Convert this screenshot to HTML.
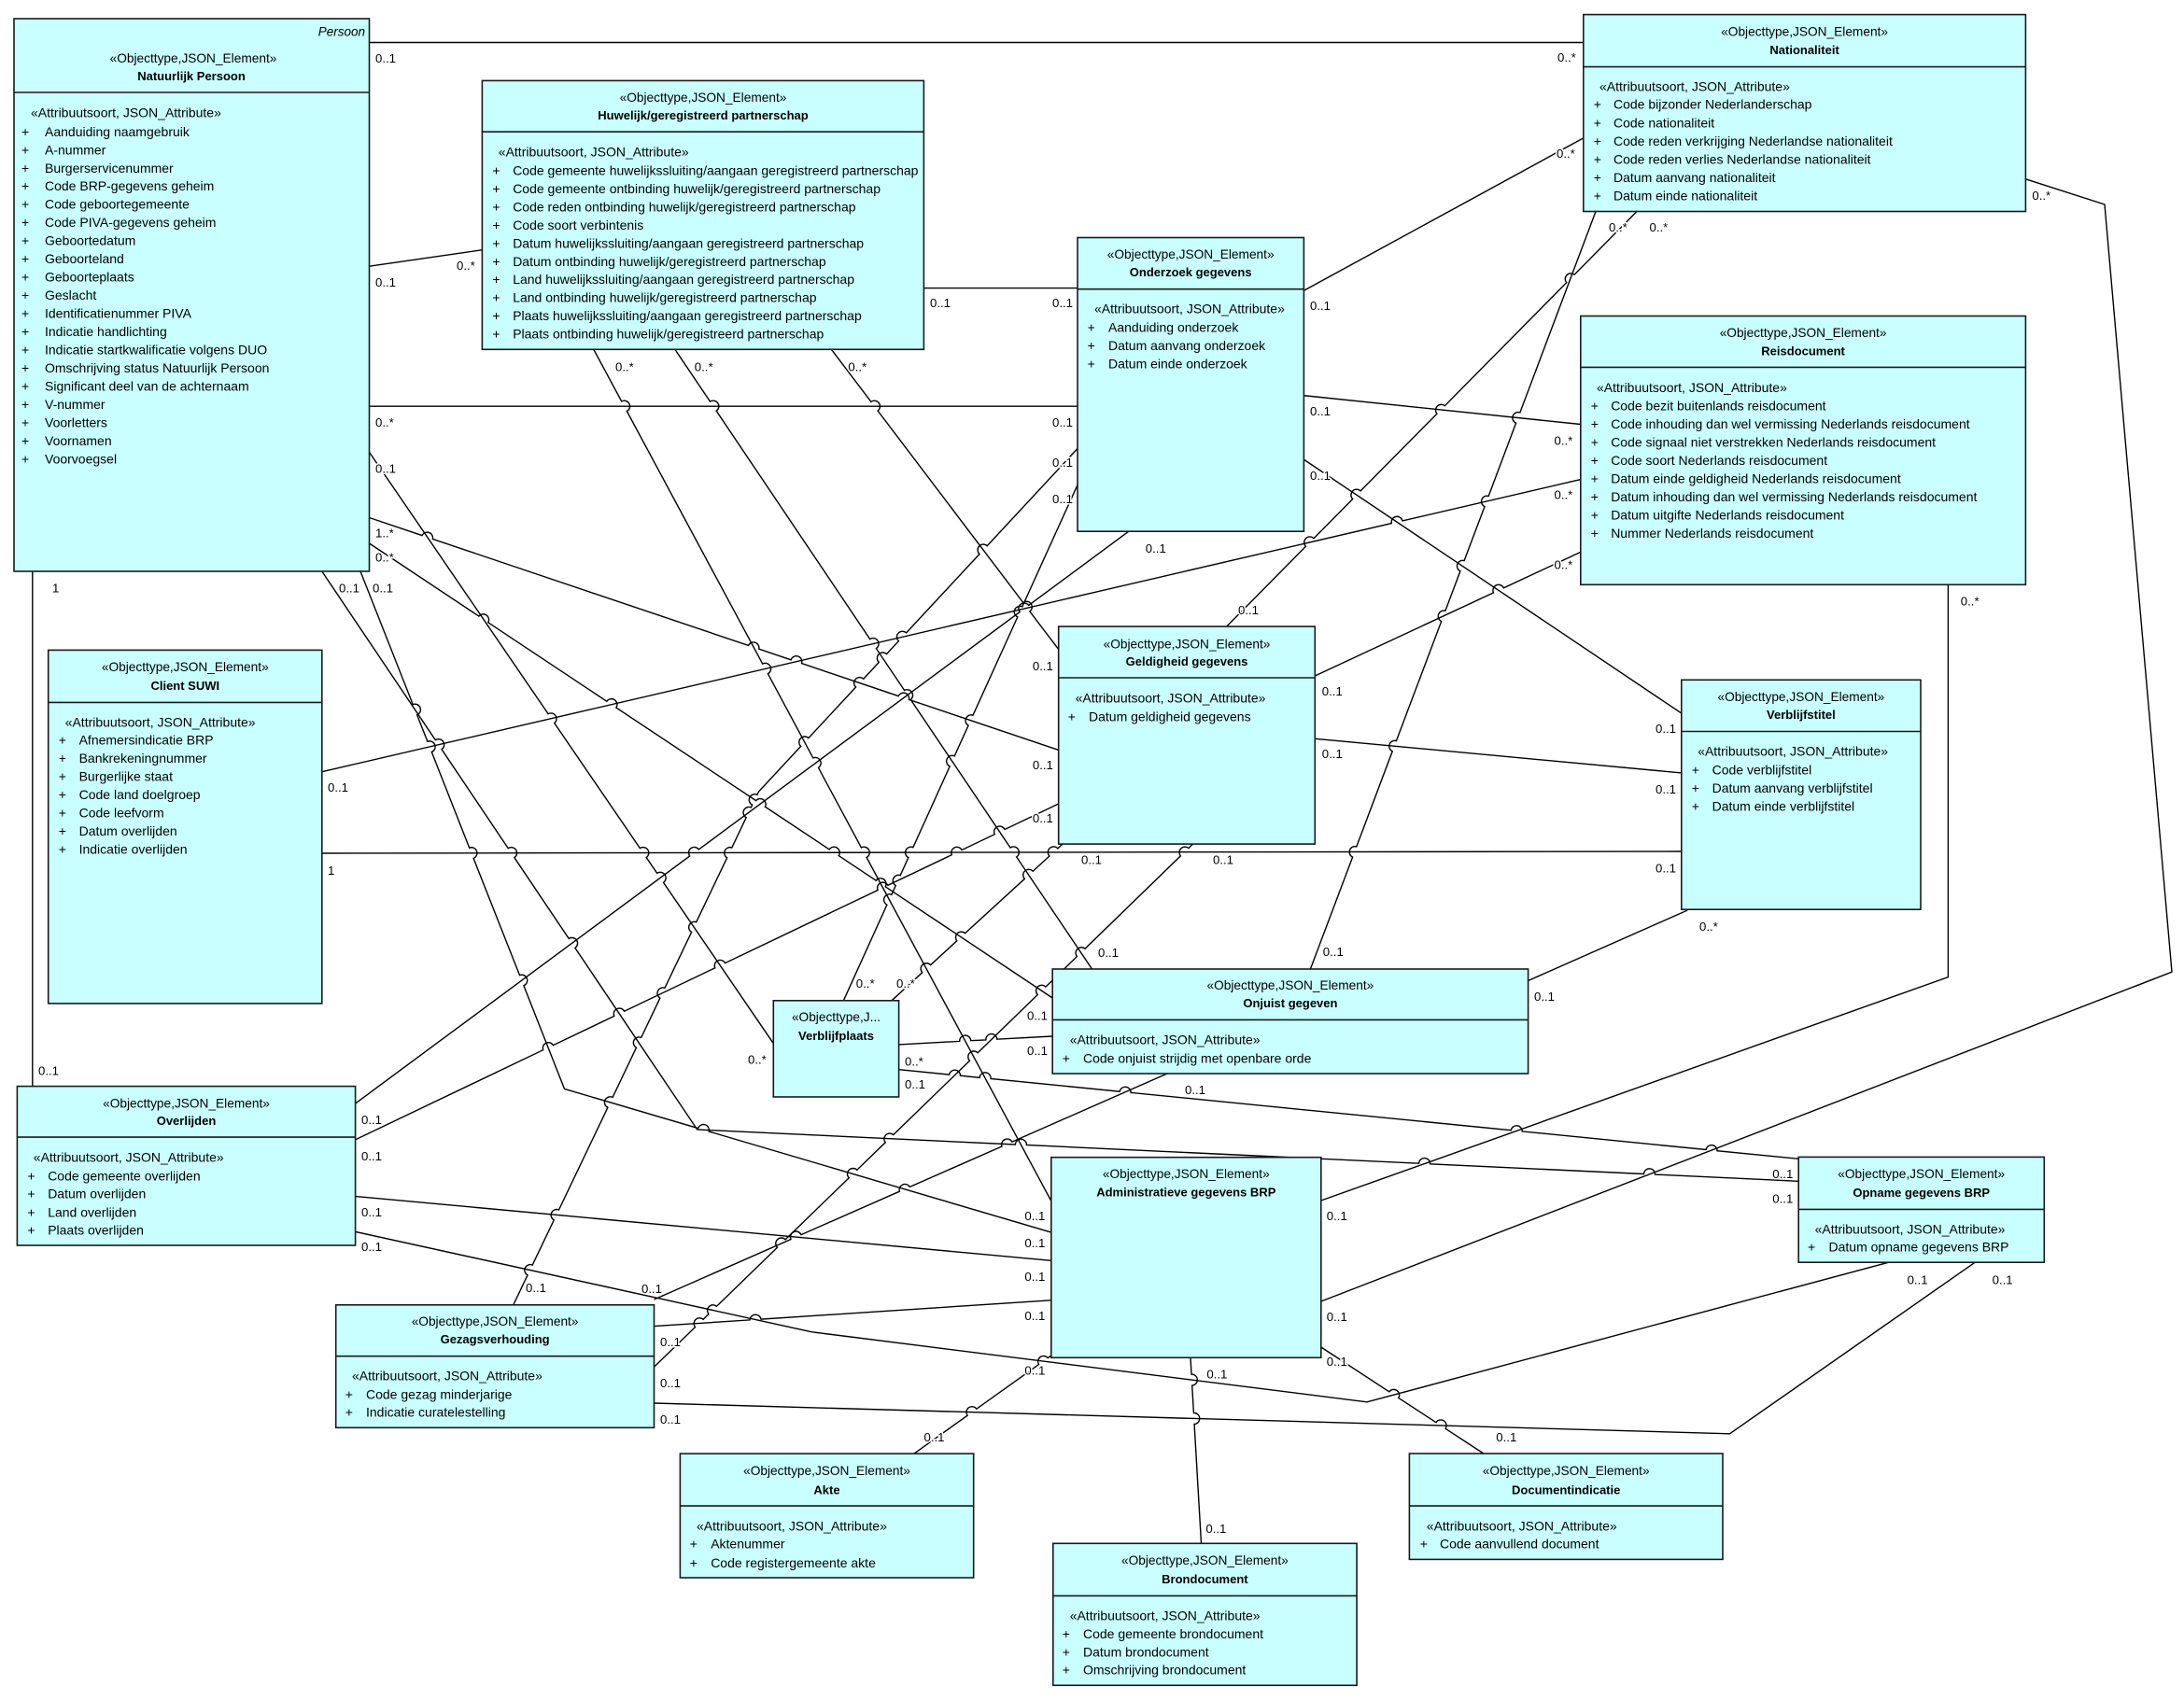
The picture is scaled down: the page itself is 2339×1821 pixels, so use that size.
<!DOCTYPE html>
<html><head><meta charset="utf-8"><title>Natuurlijk Persoon</title>
<style>
html,body{margin:0;padding:0;background:#fff;}
svg{display:block;}
.c{fill:none;stroke:#000;stroke-width:1.4;}
.b{fill:#c9ffff;stroke:#1a1a1a;stroke-width:1.6;}
.dv{stroke:#1a1a1a;stroke-width:1.6;}
text{font-family:"Liberation Sans",Arial,sans-serif;dominant-baseline:central;fill:#000;}
.st{font-size:13.7px;text-anchor:middle;}
.nm{font-size:13px;font-weight:bold;text-anchor:middle;}
.at{font-size:14px;}
.lb{font-size:13.2px;stroke:#fff;stroke-width:3px;paint-order:stroke;stroke-linejoin:round;}
</style></head><body>
<svg id="dg" width="2339" height="1821" viewBox="0 0 2339 1821">
<rect x="0" y="0" width="2339" height="1821" fill="#fff"/>
<g id="conns">
<path class="c" d="M395.5,45.5 L1695.8,45.5"/>
<path class="c" d="M395.5,285.2 L516.4,267.7"/>
<path class="c" d="M989.4,308.6 L1154,308.6"/>
<path class="c" d="M395.5,435.2 L1154,435.2"/>
<path class="c" d="M1396.4,311.3 L1695.8,147.9"/>
<path class="c" d="M1396.4,423.7 L1692.8,454.5"/>
<path class="c" d="M1396.4,492.2 L1800.8,764"/>
<path class="c" d="M344.8,826.7 L1692.8,513.6"/>
<path class="c" d="M1408.3,724 L1692.8,591.4"/>
<path class="c" d="M1408.3,791.3 L1800.8,827.9"/>
<path class="c" d="M344.8,914 L1800.8,912"/>
<path class="c" d="M1807.3,975 L1636.6,1050.5"/>
<path class="c" d="M2086.4,626.3 L2086.4,1046.6 L1414.8,1286"/>
<path class="c" d="M2169.4,191.8 L2254,219 L2326,1041.2 L1414.8,1394"/>
<path class="c" d="M1709,226.5 L1403.4,1038"/>
<path class="c" d="M1753,226.5 L1313.8,671"/>
<path class="c" d="M1208.8,569.2 L380.6,1182"/>
<path class="c" d="M34.8,612 L34.8,1163.6"/>
<path class="c" d="M635.8,374.3 L1125.8,1286.5"/>
<path class="c" d="M722.9,374.3 L1169.5,1038"/>
<path class="c" d="M890.4,374.3 L1133.7,695.6"/>
<path class="c" d="M395.5,484.4 L828.3,1117.7"/>
<path class="c" d="M395.5,554.5 L1133.7,803.4"/>
<path class="c" d="M395.5,582 L1127.2,1069"/>
<path class="c" d="M344.8,612 L746.7,1210 L1926.2,1265.3"/>
<path class="c" d="M386,612 L604.5,1166.4 L1125.8,1320.1"/>
<path class="c" d="M380.6,1220.8 L1133.7,861"/>
<path class="c" d="M380.6,1281.5 L1125.8,1350.3"/>
<path class="c" d="M380.6,1319.4 L869.6,1426.8 L1464,1501.8 L2022.7,1352.2"/>
<path class="c" d="M549.8,1397.8 L812.5,848 L1154,480.5"/>
<path class="c" d="M700.5,1392 L1250,1150"/>
<path class="c" d="M700.5,1420.6 L1125.8,1392.8"/>
<path class="c" d="M700.5,1464.3 L1277.5,904.1"/>
<path class="c" d="M700.5,1503 L1852.5,1535.8 L2115.2,1352.2"/>
<path class="c" d="M903.4,1071.8 L1154,519.4"/>
<path class="c" d="M955,1071.8 L1138,904.1"/>
<path class="c" d="M962.6,1118.9 L1127.2,1110"/>
<path class="c" d="M962.6,1145.7 L1926.2,1241.3"/>
<path class="c" d="M979,1557.1 L1125.8,1452"/>
<path class="c" d="M1275,1454.3 L1286.5,1653.3"/>
<path class="c" d="M1414.8,1443 L1588.9,1557"/>
</g>

<!-- Natuurlijk Persoon -->
<rect class="b" x="15" y="20" width="380.5" height="592"/>
<line class="dv" x1="15" y1="99" x2="395.5" y2="99"/>
<text x="391" y="33.8" style="font-size:13.5px;font-style:italic;text-anchor:end">Persoon</text>
<text class="st" x="207" y="62.3">«Objecttype,JSON_Element»</text>
<text class="nm" x="205" y="81.7">Natuurlijk Persoon</text>
<text class="at" x="33" y="120.6">«Attribuutsoort, JSON_Attribute»</text>
<g class="at">
<text class="at" x="23" y="140.8">+</text><text class="at" x="48" y="140.8">Aanduiding naamgebruik</text>
<text class="at" x="23" y="160.3">+</text><text class="at" x="48" y="160.3">A-nummer</text>
<text class="at" x="23" y="179.8">+</text><text class="at" x="48" y="179.8">Burgerservicenummer</text>
<text class="at" x="23" y="199.2">+</text><text class="at" x="48" y="199.2">Code BRP-gegevens geheim</text>
<text class="at" x="23" y="218.7">+</text><text class="at" x="48" y="218.7">Code geboortegemeente</text>
<text class="at" x="23" y="238.2">+</text><text class="at" x="48" y="238.2">Code PIVA-gegevens geheim</text>
<text class="at" x="23" y="257.7">+</text><text class="at" x="48" y="257.7">Geboortedatum</text>
<text class="at" x="23" y="277.2">+</text><text class="at" x="48" y="277.2">Geboorteland</text>
<text class="at" x="23" y="296.6">+</text><text class="at" x="48" y="296.6">Geboorteplaats</text>
<text class="at" x="23" y="316.1">+</text><text class="at" x="48" y="316.1">Geslacht</text>
<text class="at" x="23" y="335.6">+</text><text class="at" x="48" y="335.6">Identificatienummer PIVA</text>
<text class="at" x="23" y="355.1">+</text><text class="at" x="48" y="355.1">Indicatie handlichting</text>
<text class="at" x="23" y="374.6">+</text><text class="at" x="48" y="374.6">Indicatie startkwalificatie volgens DUO</text>
<text class="at" x="23" y="394.0">+</text><text class="at" x="48" y="394.0">Omschrijving status Natuurlijk Persoon</text>
<text class="at" x="23" y="413.5">+</text><text class="at" x="48" y="413.5">Significant deel van de achternaam</text>
<text class="at" x="23" y="433.0">+</text><text class="at" x="48" y="433.0">V-nummer</text>
<text class="at" x="23" y="452.5">+</text><text class="at" x="48" y="452.5">Voorletters</text>
<text class="at" x="23" y="472.0">+</text><text class="at" x="48" y="472.0">Voornamen</text>
<text class="at" x="23" y="491.4">+</text><text class="at" x="48" y="491.4">Voorvoegsel</text>
</g>

<!-- Huwelijk -->
<rect class="b" x="516.4" y="86.4" width="473" height="287.9"/>
<line class="dv" x1="516.4" y1="141.2" x2="989.4" y2="141.2"/>
<text class="st" x="753" y="104.3">«Objecttype,JSON_Element»</text>
<text class="nm" x="753" y="123.7">Huwelijk/geregistreerd partnerschap</text>
<text class="at" x="533.8" y="162.3">«Attribuutsoort, JSON_Attribute»</text>
<text class="at" x="527.4" y="182.5">+</text><text class="at" x="549.2" y="182.5">Code gemeente huwelijkssluiting/aangaan geregistreerd partnerschap</text>
<text class="at" x="527.4" y="202.0">+</text><text class="at" x="549.2" y="202.0">Code gemeente ontbinding huwelijk/geregistreerd partnerschap</text>
<text class="at" x="527.4" y="221.4">+</text><text class="at" x="549.2" y="221.4">Code reden ontbinding huwelijk/geregistreerd partnerschap</text>
<text class="at" x="527.4" y="240.9">+</text><text class="at" x="549.2" y="240.9">Code soort verbintenis</text>
<text class="at" x="527.4" y="260.3">+</text><text class="at" x="549.2" y="260.3">Datum huwelijkssluiting/aangaan geregistreerd partnerschap</text>
<text class="at" x="527.4" y="279.8">+</text><text class="at" x="549.2" y="279.8">Datum ontbinding huwelijk/geregistreerd partnerschap</text>
<text class="at" x="527.4" y="299.2">+</text><text class="at" x="549.2" y="299.2">Land huwelijkssluiting/aangaan geregistreerd partnerschap</text>
<text class="at" x="527.4" y="318.7">+</text><text class="at" x="549.2" y="318.7">Land ontbinding huwelijk/geregistreerd partnerschap</text>
<text class="at" x="527.4" y="338.1">+</text><text class="at" x="549.2" y="338.1">Plaats huwelijkssluiting/aangaan geregistreerd partnerschap</text>
<text class="at" x="527.4" y="357.6">+</text><text class="at" x="549.2" y="357.6">Plaats ontbinding huwelijk/geregistreerd partnerschap</text>

<!-- Onderzoek gegevens -->
<rect class="b" x="1154" y="254.5" width="242.4" height="314.7"/>
<line class="dv" x1="1154" y1="309.7" x2="1396.4" y2="309.7"/>
<text class="st" x="1275.2" y="272.4">«Objecttype,JSON_Element»</text>
<text class="nm" x="1275.2" y="291.4">Onderzoek gegevens</text>
<text class="at" x="1172" y="330.3">«Attribuutsoort, JSON_Attribute»</text>
<text class="at" x="1164.6" y="350.6">+</text><text class="at" x="1187" y="350.6">Aanduiding onderzoek</text>
<text class="at" x="1164.6" y="369.8">+</text><text class="at" x="1187" y="369.8">Datum aanvang onderzoek</text>
<text class="at" x="1164.6" y="389.5">+</text><text class="at" x="1187" y="389.5">Datum einde onderzoek</text>

<!-- Nationaliteit -->
<rect class="b" x="1695.8" y="15.6" width="473.6" height="210.9"/>
<line class="dv" x1="1695.8" y1="71.6" x2="2169.4" y2="71.6"/>
<text class="st" x="1932.6" y="33.9">«Objecttype,JSON_Element»</text>
<text class="nm" x="1932.6" y="53.7">Nationaliteit</text>
<text class="at" x="1713" y="92.6">«Attribuutsoort, JSON_Attribute»</text>
<text class="at" x="1706.8" y="111.7">+</text><text class="at" x="1728" y="111.7">Code bijzonder Nederlanderschap</text>
<text class="at" x="1706.8" y="131.3">+</text><text class="at" x="1728" y="131.3">Code nationaliteit</text>
<text class="at" x="1706.8" y="150.8">+</text><text class="at" x="1728" y="150.8">Code reden verkrijging Nederlandse nationaliteit</text>
<text class="at" x="1706.8" y="170.3">+</text><text class="at" x="1728" y="170.3">Code reden verlies Nederlandse nationaliteit</text>
<text class="at" x="1706.8" y="189.8">+</text><text class="at" x="1728" y="189.8">Datum aanvang nationaliteit</text>
<text class="at" x="1706.8" y="209.3">+</text><text class="at" x="1728" y="209.3">Datum einde nationaliteit</text>

<!-- Reisdocument -->
<rect class="b" x="1692.8" y="338.5" width="476.6" height="287.8"/>
<line class="dv" x1="1692.8" y1="393.4" x2="2169.4" y2="393.4"/>
<text class="st" x="1931.1" y="356.4">«Objecttype,JSON_Element»</text>
<text class="nm" x="1931.1" y="375.9">Reisdocument</text>
<text class="at" x="1710" y="414.8">«Attribuutsoort, JSON_Attribute»</text>
<text class="at" x="1703.8" y="434.6">+</text><text class="at" x="1725.2" y="434.6">Code bezit buitenlands reisdocument</text>
<text class="at" x="1703.8" y="454.0">+</text><text class="at" x="1725.2" y="454.0">Code inhouding dan wel vermissing Nederlands reisdocument</text>
<text class="at" x="1703.8" y="473.5">+</text><text class="at" x="1725.2" y="473.5">Code signaal niet verstrekken Nederlands reisdocument</text>
<text class="at" x="1703.8" y="492.9">+</text><text class="at" x="1725.2" y="492.9">Code soort Nederlands reisdocument</text>
<text class="at" x="1703.8" y="512.4">+</text><text class="at" x="1725.2" y="512.4">Datum einde geldigheid Nederlands reisdocument</text>
<text class="at" x="1703.8" y="531.8">+</text><text class="at" x="1725.2" y="531.8">Datum inhouding dan wel vermissing Nederlands reisdocument</text>
<text class="at" x="1703.8" y="551.3">+</text><text class="at" x="1725.2" y="551.3">Datum uitgifte Nederlands reisdocument</text>
<text class="at" x="1703.8" y="570.8">+</text><text class="at" x="1725.2" y="570.8">Nummer Nederlands reisdocument</text>

<!-- Client SUWI -->
<rect class="b" x="51.7" y="696.4" width="293.1" height="378.5"/>
<line class="dv" x1="51.7" y1="752.4" x2="344.8" y2="752.4"/>
<text class="st" x="198.3" y="714.3">«Objecttype,JSON_Element»</text>
<text class="nm" x="198.3" y="734.5">Client SUWI</text>
<text class="at" x="69.7" y="773.4">«Attribuutsoort, JSON_Attribute»</text>
<text class="at" x="62.7" y="792.5">+</text><text class="at" x="84.6" y="792.5">Afnemersindicatie BRP</text>
<text class="at" x="62.7" y="812.0">+</text><text class="at" x="84.6" y="812.0">Bankrekeningnummer</text>
<text class="at" x="62.7" y="831.5">+</text><text class="at" x="84.6" y="831.5">Burgerlijke staat</text>
<text class="at" x="62.7" y="851.0">+</text><text class="at" x="84.6" y="851.0">Code land doelgroep</text>
<text class="at" x="62.7" y="870.5">+</text><text class="at" x="84.6" y="870.5">Code leefvorm</text>
<text class="at" x="62.7" y="890.0">+</text><text class="at" x="84.6" y="890.0">Datum overlijden</text>
<text class="at" x="62.7" y="909.6">+</text><text class="at" x="84.6" y="909.6">Indicatie overlijden</text>

<!-- Overlijden -->
<rect class="b" x="18.4" y="1163.6" width="362.2" height="170.4"/>
<line class="dv" x1="18.4" y1="1218.1" x2="380.6" y2="1218.1"/>
<text class="st" x="199.5" y="1182">«Objecttype,JSON_Element»</text>
<text class="nm" x="199.5" y="1200.6">Overlijden</text>
<text class="at" x="35.8" y="1239.4">«Attribuutsoort, JSON_Attribute»</text>
<text class="at" x="29.4" y="1259.5">+</text><text class="at" x="51.2" y="1259.5">Code gemeente overlijden</text>
<text class="at" x="29.4" y="1278.6">+</text><text class="at" x="51.2" y="1278.6">Datum overlijden</text>
<text class="at" x="29.4" y="1298.3">+</text><text class="at" x="51.2" y="1298.3">Land overlijden</text>
<text class="at" x="29.4" y="1317.4">+</text><text class="at" x="51.2" y="1317.4">Plaats overlijden</text>

<!-- Gezagsverhouding -->
<rect class="b" x="359.7" y="1397.8" width="340.8" height="131.5"/>
<line class="dv" x1="359.7" y1="1452.7" x2="700.5" y2="1452.7"/>
<text class="st" x="530.1" y="1415.6">«Objecttype,JSON_Element»</text>
<text class="nm" x="530.1" y="1434.6">Gezagsverhouding</text>
<text class="at" x="377" y="1473.6">«Attribuutsoort, JSON_Attribute»</text>
<text class="at" x="369.7" y="1493.7">+</text><text class="at" x="392" y="1493.7">Code gezag minderjarige</text>
<text class="at" x="369.7" y="1512.6">+</text><text class="at" x="392" y="1512.6">Indicatie curatelestelling</text>

<!-- Akte -->
<rect class="b" x="728.4" y="1557.1" width="314.3" height="132.9"/>
<line class="dv" x1="728.4" y1="1613.1" x2="1042.7" y2="1613.1"/>
<text class="st" x="885.5" y="1575.6">«Objecttype,JSON_Element»</text>
<text class="nm" x="885.5" y="1595.8">Akte</text>
<text class="at" x="746" y="1634.4">«Attribuutsoort, JSON_Attribute»</text>
<text class="at" x="738.8" y="1653.7">+</text><text class="at" x="761.2" y="1653.7">Aktenummer</text>
<text class="at" x="738.8" y="1673.8">+</text><text class="at" x="761.2" y="1673.8">Code registergemeente akte</text>

<!-- Brondocument -->
<rect class="b" x="1127.8" y="1653.3" width="325.3" height="152"/>
<line class="dv" x1="1127.8" y1="1709.4" x2="1453.1" y2="1709.4"/>
<text class="st" x="1290.4" y="1671.5">«Objecttype,JSON_Element»</text>
<text class="nm" x="1290.4" y="1691.6">Brondocument</text>
<text class="at" x="1145.7" y="1730.7">«Attribuutsoort, JSON_Attribute»</text>
<text class="at" x="1137.7" y="1750">+</text><text class="at" x="1160" y="1750">Code gemeente brondocument</text>
<text class="at" x="1137.7" y="1769.3">+</text><text class="at" x="1160" y="1769.3">Datum brondocument</text>
<text class="at" x="1137.7" y="1788.6">+</text><text class="at" x="1160" y="1788.6">Omschrijving brondocument</text>

<!-- Administratieve gegevens BRP -->
<rect class="b" x="1125.8" y="1239.7" width="289" height="214.6"/>
<text class="st" x="1270.3" y="1257.5">«Objecttype,JSON_Element»</text>
<text class="nm" x="1270.3" y="1277.2">Administratieve gegevens BRP</text>

<!-- Documentindicatie -->
<rect class="b" x="1509.4" y="1557" width="335.6" height="113.4"/>
<line class="dv" x1="1509.4" y1="1613.1" x2="1845" y2="1613.1"/>
<text class="st" x="1677.2" y="1575.6">«Objecttype,JSON_Element»</text>
<text class="nm" x="1677.2" y="1595.8">Documentindicatie</text>
<text class="at" x="1527.8" y="1634.4">«Attribuutsoort, JSON_Attribute»</text>
<text class="at" x="1520.8" y="1653.7">+</text><text class="at" x="1542" y="1653.7">Code aanvullend document</text>

<!-- Opname gegevens BRP -->
<rect class="b" x="1926.2" y="1239.4" width="263.1" height="112.8"/>
<line class="dv" x1="1926.2" y1="1295.4" x2="2189.3" y2="1295.4"/>
<text class="st" x="2057.7" y="1257.5">«Objecttype,JSON_Element»</text>
<text class="nm" x="2057.7" y="1277.6">Opname gegevens BRP</text>
<text class="at" x="1943.6" y="1316.7">«Attribuutsoort, JSON_Attribute»</text>
<text class="at" x="1936" y="1335.6">+</text><text class="at" x="1958.5" y="1335.6">Datum opname gegevens BRP</text>

<!-- Verblijfstitel -->
<rect class="b" x="1800.8" y="728.3" width="256.2" height="245.9"/>
<line class="dv" x1="1800.8" y1="783.5" x2="2057" y2="783.5"/>
<text class="st" x="1928.9" y="746.6">«Objecttype,JSON_Element»</text>
<text class="nm" x="1928.9" y="765.6">Verblijfstitel</text>
<text class="at" x="1818.2" y="804.5">«Attribuutsoort, JSON_Attribute»</text>
<text class="at" x="1811.7" y="824.4">+</text><text class="at" x="1833.6" y="824.4">Code verblijfstitel</text>
<text class="at" x="1811.7" y="843.8">+</text><text class="at" x="1833.6" y="843.8">Datum aanvang verblijfstitel</text>
<text class="at" x="1811.7" y="863.3">+</text><text class="at" x="1833.6" y="863.3">Datum einde verblijfstitel</text>

<!-- Geldigheid gegevens -->
<rect class="b" x="1133.7" y="671.1" width="274.6" height="233"/>
<line class="dv" x1="1133.7" y1="726" x2="1408.3" y2="726"/>
<text class="st" x="1271" y="689.8">«Objecttype,JSON_Element»</text>
<text class="nm" x="1271" y="708.4">Geldigheid gegevens</text>
<text class="at" x="1151.6" y="747.3">«Attribuutsoort, JSON_Attribute»</text>
<text class="at" x="1143.7" y="767.6">+</text><text class="at" x="1166" y="767.6">Datum geldigheid gegevens</text>

<!-- Onjuist gegeven -->
<rect class="b" x="1127.2" y="1038" width="509.4" height="112"/>
<line class="dv" x1="1127.2" y1="1092.4" x2="1636.6" y2="1092.4"/>
<text class="st" x="1381.9" y="1055.5">«Objecttype,JSON_Element»</text>
<text class="nm" x="1381.9" y="1074.5">Onjuist gegeven</text>
<text class="at" x="1145.7" y="1113.4">«Attribuutsoort, JSON_Attribute»</text>
<text class="at" x="1137.7" y="1133.6">+</text><text class="at" x="1160" y="1133.6">Code onjuist strijdig met openbare orde</text>

<!-- Verblijfplaats -->
<rect class="b" x="828.3" y="1071.8" width="134.3" height="103.2"/>
<text class="st" x="895.5" y="1089.7">«Objecttype,J...</text>
<text class="nm" x="895.5" y="1109.5">Verblijfplaats</text>

<!-- multiplicity labels -->
<g>
<text class="lb" x="402" y="62.3">0..1</text>
<text class="lb" x="1668" y="61.5">0..*</text>
<text class="lb" x="402" y="302.7">0..1</text>
<text class="lb" x="489" y="284.4">0..*</text>
<text class="lb" x="996" y="324.5">0..1</text>
<text class="lb" x="1127" y="324.5">0..1</text>
<text class="lb" x="402" y="452.5">0..*</text>
<text class="lb" x="1127" y="452.5">0..1</text>
<text class="lb" x="1403" y="327.6">0..1</text>
<text class="lb" x="1667" y="164.6">0..*</text>
<text class="lb" x="1403" y="440.5">0..1</text>
<text class="lb" x="1664.5" y="472">0..*</text>
<text class="lb" x="1403" y="509.7">0..1</text>
<text class="lb" x="1773" y="780.4">0..1</text>
<text class="lb" x="351" y="843.5">0..1</text>
<text class="lb" x="1664.5" y="530">0..*</text>
<text class="lb" x="1415.8" y="740.4">0..1</text>
<text class="lb" x="1664.5" y="605">0..*</text>
<text class="lb" x="1415.8" y="807.6">0..1</text>
<text class="lb" x="1773" y="845.4">0..1</text>
<text class="lb" x="351" y="932.6">1</text>
<text class="lb" x="1773" y="929.8">0..1</text>
<text class="lb" x="1820" y="992.5">0..*</text>
<text class="lb" x="1643" y="1067.6">0..1</text>
<text class="lb" x="2099.8" y="644">0..*</text>
<text class="lb" x="1420.8" y="1302.7">0..1</text>
<text class="lb" x="2176.4" y="209.3">0..*</text>
<text class="lb" x="1420.8" y="1410.6">0..1</text>
<text class="lb" x="1723" y="243.6">0..*</text>
<text class="lb" x="1416.8" y="1019.7">0..1</text>
<text class="lb" x="1766.5" y="243.6">0..*</text>
<text class="lb" x="1326" y="653.6">0..1</text>
<text class="lb" x="1226.8" y="587.5">0..1</text>
<text class="lb" x="387" y="1199.5">0..1</text>
<text class="lb" x="56" y="630">1</text>
<text class="lb" x="41" y="1147">0..1</text>
<text class="lb" x="659" y="393">0..*</text>
<text class="lb" x="1097.4" y="1302.7">0..1</text>
<text class="lb" x="743.8" y="393">0..*</text>
<text class="lb" x="1176" y="1020.5">0..1</text>
<text class="lb" x="908.4" y="393">0..*</text>
<text class="lb" x="1105.9" y="713.5">0..1</text>
<text class="lb" x="402" y="502">0..1</text>
<text class="lb" x="801" y="1134.9">0..*</text>
<text class="lb" x="402" y="571">1..*</text>
<text class="lb" x="1105.9" y="819.7">0..1</text>
<text class="lb" x="402" y="597">0..*</text>
<text class="lb" x="1100" y="1088">0..1</text>
<text class="lb" x="363" y="630">0..1</text>
<text class="lb" x="1898.3" y="1283.8">0..1</text>
<text class="lb" x="399" y="630">0..1</text>
<text class="lb" x="1097.4" y="1331.3">0..1</text>
<text class="lb" x="387" y="1238.6">0..1</text>
<text class="lb" x="1105.9" y="876.5">0..1</text>
<text class="lb" x="387" y="1298.5">0..1</text>
<text class="lb" x="1097.4" y="1367.3">0..1</text>
<text class="lb" x="387" y="1335.6">0..1</text>
<text class="lb" x="2042.6" y="1370.8">0..1</text>
<text class="lb" x="563" y="1379.7">0..1</text>
<text class="lb" x="1127" y="495.7">0..1</text>
<text class="lb" x="687" y="1380.4">0..1</text>
<text class="lb" x="1269" y="1167.6">0..1</text>
<text class="lb" x="707" y="1437.6">0..1</text>
<text class="lb" x="1097.4" y="1409.4">0..1</text>
<text class="lb" x="707" y="1481.7">0..1</text>
<text class="lb" x="1299" y="921">0..1</text>
<text class="lb" x="707" y="1520.4">0..1</text>
<text class="lb" x="2133.6" y="1370.8">0..1</text>
<text class="lb" x="916.8" y="1053.6">0..*</text>
<text class="lb" x="1127" y="534.6">0..1</text>
<text class="lb" x="960" y="1053.6">0..*</text>
<text class="lb" x="1158" y="921">0..1</text>
<text class="lb" x="969" y="1137">0..*</text>
<text class="lb" x="969" y="1161.7">0..1</text>
<text class="lb" x="1100" y="1125.5">0..1</text>
<text class="lb" x="1898.3" y="1257.5">0..1</text>
<text class="lb" x="989.5" y="1539.7">0..1</text>
<text class="lb" x="1097.4" y="1467.8">0..1</text>
<text class="lb" x="1291.4" y="1637.5">0..1</text>
<text class="lb" x="1292.4" y="1472">0..1</text>
<text class="lb" x="1602.3" y="1539.7">0..1</text>
<text class="lb" x="1420.8" y="1458.5">0..1</text>
</g>
</svg>
<script>
(function(){
try{
var svg=document.getElementById('dg');
var ps=Array.prototype.slice.call(svg.querySelectorAll('path.c'));
var polys=ps.map(function(p){var n=p.getAttribute('d').match(/-?[\d.]+/g).map(Number);var a=[];for(var i=0;i+1<n.length;i+=2)a.push([n[i],n[i+1]]);return a;});
var R=6;
function it(p1,p2,p3,p4){
 var d=(p2[0]-p1[0])*(p4[1]-p3[1])-(p2[1]-p1[1])*(p4[0]-p3[0]);
 if(Math.abs(d)<1e-9)return -1;
 var t=((p3[0]-p1[0])*(p4[1]-p3[1])-(p3[1]-p1[1])*(p4[0]-p3[0]))/d;
 var u=((p3[0]-p1[0])*(p2[1]-p1[1])-(p3[1]-p1[1])*(p2[0]-p1[0]))/d;
 if(t>0&&t<1&&u>0.005&&u<0.995)return t;return -1;}
polys.forEach(function(pts,i){
 var d='M'+pts[0][0]+','+pts[0][1];
 for(var k=0;k<pts.length-1;k++){
  var a=pts[k],b=pts[k+1],L=Math.hypot(b[0]-a[0],b[1]-a[1]);
  if(L<1){continue;}
  var ux=(b[0]-a[0])/L,uy=(b[1]-a[1])/L,ts=[];
  for(var j=0;j<i;j++){var q=polys[j];for(var m=0;m<q.length-1;m++){var t=it(a,b,q[m],q[m+1]);if(t>=0)ts.push(t*L);}}
  ts.sort(function(x,y){return x-y;});
  var last=-1e9,sw=(ux>0||(ux===0&&uy<0))?1:0;
  ts.forEach(function(s){
   if(s<R+2||s>L-R-2||s-last<2*R+1)return;last=s;
   var x1=a[0]+ux*(s-R),y1=a[1]+uy*(s-R),x2=a[0]+ux*(s+R),y2=a[1]+uy*(s+R);
   d+=' L'+x1.toFixed(1)+','+y1.toFixed(1)+' A'+R+','+R+' 0 0 '+sw+' '+x2.toFixed(1)+','+y2.toFixed(1);
  });
  d+=' L'+b[0]+','+b[1];
 }
 ps[i].setAttribute('d',d);
});
}catch(e){}
})();
</script>
</body></html>
